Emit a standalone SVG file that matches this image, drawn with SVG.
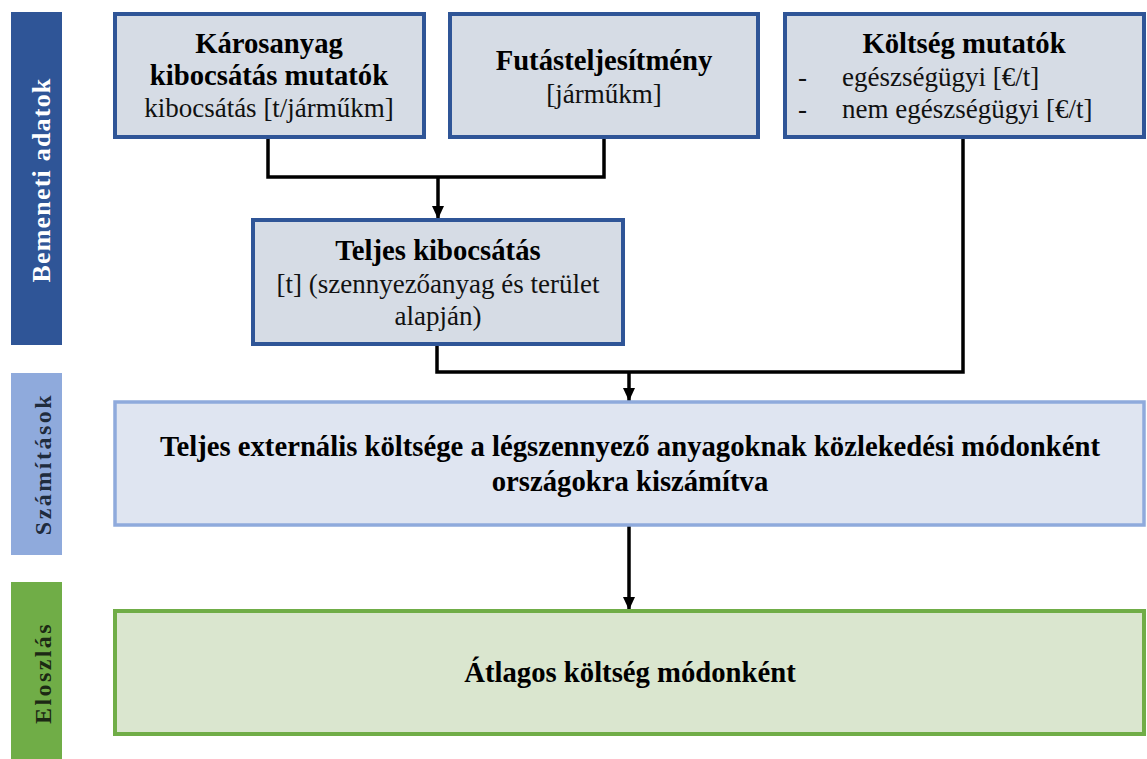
<svg xmlns="http://www.w3.org/2000/svg" width="1147" height="759" viewBox="0 0 1147 759">
  <defs>
    <marker id="arrow" viewBox="0 0 13 12" refX="13" refY="6" markerWidth="13" markerHeight="12" markerUnits="userSpaceOnUse" orient="auto">
      <path d="M0,0 L13,6 L0,12 Z" fill="#000"/>
    </marker>
    <style>
      .t { font-size: 28.7px; font-weight: bold; fill: #000; text-anchor: middle; }
      .r { font-size: 27px; fill: #111; text-anchor: middle; }
      .rl { font-size: 27px; fill: #111; }
      .side { font-weight: bold; text-anchor: middle; }
      .input { fill: #D6DCE5; stroke: #2F5597; stroke-width: 4; }
      .calc { fill: #DFE5F1; stroke: #8FAADC; stroke-width: 3.5; }
      .dist { fill: #DAE6CF; stroke: #70AD47; stroke-width: 4; }
      .wire { fill: none; stroke: #000; stroke-width: 3.5; }
    </style>
  </defs>

  <rect width="1147" height="759" fill="#fff"/>

  <g font-family="Liberation Serif, 'Times New Roman', serif">
    <!-- stage bands on the left -->
    <g id="band-input">
      <rect x="11" y="12" width="51" height="333" fill="#2F5597"/>
      <text class="side" font-size="26" letter-spacing="1.2" fill="#fff" transform="translate(50,180) rotate(-90)">Bemeneti adatok</text>
    </g>
    <g id="band-calc">
      <rect x="11" y="373" width="51" height="182" fill="#8FAADC"/>
      <text class="side" font-size="24" letter-spacing="2.5" fill="#1F2B3C" transform="translate(51,464) rotate(-90)">Számítások</text>
    </g>
    <g id="band-dist">
      <rect x="11" y="582" width="51" height="177" fill="#70AD47"/>
      <text class="side" font-size="24" letter-spacing="2.4" fill="#1C2814" transform="translate(51,673) rotate(-90)">Eloszlás</text>
    </g>

    <!-- connectors -->
    <g id="connectors">
      <polyline class="wire" points="268,139 268,177 604,177 604,139"/>
      <line class="wire" x1="438" y1="177" x2="438" y2="219" marker-end="url(#arrow)"/>
      <polyline class="wire" points="437,345 437,372 963,372 963,139"/>
      <line class="wire" x1="629" y1="372" x2="629" y2="401" marker-end="url(#arrow)"/>
      <line class="wire" x1="629" y1="526" x2="629" y2="610" marker-end="url(#arrow)"/>
    </g>

    <g id="emission-factors">
      <rect class="input" x="115" y="14" width="309" height="123"/>
      <text class="t" x="269" y="53">Károsanyag</text>
      <text class="t" x="269" y="85">kibocsátás mutatók</text>
      <text class="r" x="269" y="117">kibocsátás [t/járműkm]</text>
    </g>

    <g id="mileage">
      <rect class="input" x="450" y="14" width="308" height="123"/>
      <text class="t" x="604" y="70">Futásteljesítmény</text>
      <text class="r" x="604" y="103">[járműkm]</text>
    </g>

    <g id="cost-factors">
      <rect class="input" x="785" y="14" width="359" height="123"/>
      <text class="t" x="964" y="53">Költség mutatók</text>
      <text class="rl" x="798" y="86">-</text>
      <text class="rl" x="842" y="86">egészségügyi [€/t]</text>
      <text class="rl" x="798" y="118">-</text>
      <text class="rl" x="842" y="118">nem egészségügyi [€/t]</text>
    </g>

    <g id="total-emission">
      <rect class="input" x="253" y="220" width="370" height="124"/>
      <text class="t" x="438" y="260">Teljes kibocsátás</text>
      <text class="r" x="438" y="293">[t] (szennyezőanyag és terület</text>
      <text class="r" x="438" y="325">alapján)</text>
    </g>

    <g id="external-cost">
      <rect class="calc" x="115" y="402" width="1029" height="123"/>
      <text class="t" x="630" y="456" font-size="29">Teljes externális költsége a légszennyező anyagoknak közlekedési módonként</text>
      <text class="t" x="630" y="491" font-size="29">országokra kiszámítva</text>
    </g>

    <g id="average-cost">
      <rect class="dist" x="115" y="611" width="1029" height="123"/>
      <text class="t" x="630" y="682" font-size="29">Átlagos költség módonként</text>
    </g>
  </g>
</svg>
